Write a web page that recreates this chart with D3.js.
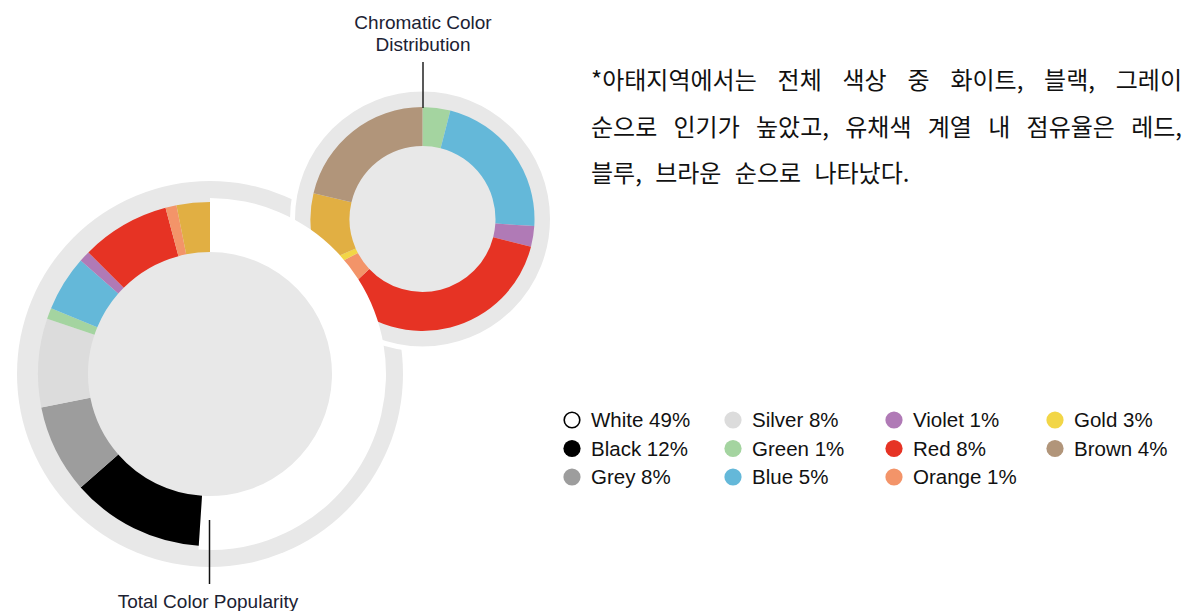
<!DOCTYPE html>
<html>
<head>
<meta charset="utf-8">
<script src="https://cdn.jsdelivr.net/npm/d3@7"></script>
<style>
  body { margin: 0; background: #fff; }
  #wrap { position: relative; width: 1192px; height: 611px; overflow: hidden; }
  .note { position: absolute; left: 591px; width: 591px; font-family: "Noto Sans CJK KR", sans-serif;
          font-size: 24px; color: #111; white-space: nowrap; word-spacing: 8px; }
  .note.just { text-align: justify; text-align-last: justify; white-space: normal; word-spacing: 0; }
</style>
</head>
<body>
<div id="wrap"></div>
<script>
// legend categories and overall share (%)
const colorNames = ["White", "Black", "Grey", "Silver", "Green", "Blue", "Violet", "Red", "Orange", "Gold", "Brown"];
const popularity = [49, 12, 8, 8, 1, 5, 1, 8, 1, 3, 4];

// chromatic ring, share (%)
const chromaticNames = ["Green", "Blue", "Violet", "Red", "Orange", "Yellow", "Gold", "Brown"];
const chromaticShare = [4.0, 22.0, 3.0, 34.0, 4.3, 1.1, 10.3, 21.3];

const noteLines = [
  "*아태지역에서는 전체 색상 중 화이트, 블랙, 그레이",
  "순으로 인기가 높았고, 유채색 계열 내 점유율은 레드,",
  "블루, 브라운 순으로 나타났다."
];

// colours
const legendColor = {
  White: "#ffffff", Black: "#000000", Grey: "#9d9d9d", Silver: "#dcdcdc", Green: "#a4d4a0",
  Blue: "#64b8d9", Violet: "#b07ab6", Red: "#e63324", Orange: "#f39469", Gold: "#f2d647", Brown: "#b1957a"
};
const ringColor = Object.assign({}, legendColor, { Gold: "#e1af43", Yellow: "#f2d647" });
const bgGray = "#e8e8e8";

const svg = d3.select("#wrap")
  .append("svg")
    .attr("width", 1192)
    .attr("height", 611)
    .style("position", "absolute");

const big = { cx: 210, cy: 374, bg: 193, inner: 122, outer: 172 };
const small = { cx: 422.5, cy: 219, bg: 130, inner: 73, outer: 112 };

const pie = d3.pie().sort(null).value(d => d.value);

// big background disc
svg.append("circle")
  .attr("cx", big.cx).attr("cy", big.cy).attr("r", big.bg)
  .attr("fill", bgGray);

// small donut
const gSmall = svg.append("g").attr("transform", `translate(${small.cx},${small.cy})`);
gSmall.append("circle")
  .attr("r", small.bg)
  .attr("fill", bgGray)
  .attr("stroke", "#fff")
  .attr("stroke-width", 5);

const smallData = chromaticNames.map((n, i) => ({ name: n, value: chromaticShare[i] }));
const smallArc = d3.arc().innerRadius(small.inner).outerRadius(small.outer);
gSmall.selectAll("path")
  .data(pie(smallData))
  .enter()
  .append("path")
    .attr("d", smallArc)
    .attr("fill", d => ringColor[d.data.name]);

// big donut (brown is not part of the ring)
const bigData = colorNames.map((n, i) => ({ name: n, value: popularity[i] }))
  .filter(d => d.name !== "Brown");
const bigArc = d3.arc()
  .innerRadius(big.inner)
  .outerRadius(d => d.data.name === "White" ? 176 : big.outer);

const gBig = svg.append("g").attr("transform", `translate(${big.cx},${big.cy})`);
gBig.selectAll("path")
  .data(pie(bigData))
  .enter()
  .append("path")
    .attr("d", bigArc)
    .attr("fill", d => ringColor[d.data.name]);

// pointer lines + labels
svg.append("line")
  .attr("x1", 423).attr("x2", 423).attr("y1", 62).attr("y2", 108)
  .attr("stroke", "#222").attr("stroke-width", 1.5);
svg.append("line")
  .attr("x1", 209.5).attr("x2", 209.5).attr("y1", 520).attr("y2", 584)
  .attr("stroke", "#111").attr("stroke-width", 1.5);

const labelFont = "'Liberation Sans', Arial, sans-serif";
const chromLabel = svg.append("text")
  .attr("x", 423).attr("y", 29)
  .attr("text-anchor", "middle")
  .style("font-family", labelFont).style("font-size", "19px").style("fill", "#1c2233");
chromLabel.append("tspan").attr("x", 423).text("Chromatic Color");
chromLabel.append("tspan").attr("x", 423).attr("dy", 22).text("Distribution");

svg.append("text")
  .attr("x", 208).attr("y", 608)
  .attr("text-anchor", "middle")
  .style("font-family", labelFont).style("font-size", "19px").style("fill", "#1c2233")
  .text("Total Color Popularity");

// legend, 3 rows per column
const legend = svg.append("g").selectAll("g")
  .data(colorNames.map((n, i) => ({ name: n, value: popularity[i], i })))
  .enter()
  .append("g")
    .attr("transform", d => `translate(${572 + Math.floor(d.i / 3) * 161},${420 + (d.i % 3) * 28.5})`);

legend.append("circle")
  .attr("r", d => d.name === "White" ? 7.8 : 8.6)
  .attr("fill", d => legendColor[d.name])
  .attr("stroke", d => d.name === "White" ? "#000" : "none")
  .attr("stroke-width", 1.6);

legend.append("text")
  .attr("x", 19).attr("y", 7)
  .style("font-family", labelFont).style("font-size", "20.5px").style("fill", "#111")
  .text(d => `${d.name} ${d.value}%`);

// korean note, first two lines justified
d3.select("#wrap").selectAll("div.note")
  .data(noteLines)
  .enter()
  .append("div")
    .attr("class", (d, i) => i < 2 ? "note just" : "note")
    .style("top", (d, i) => (55 + i * 46.5) + "px")
    .style("line-height", "47px")
    .text(d => d);
</script>
</body>
</html>
